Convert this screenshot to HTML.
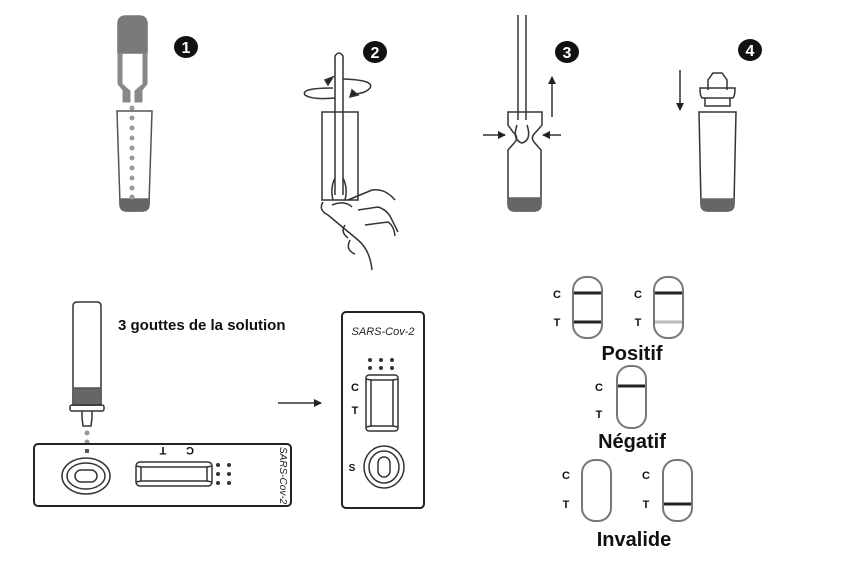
<!DOCTYPE html>
<html><head><meta charset="utf-8"><style>
html,body{margin:0;padding:0;background:#fff;}
svg{display:block;font-family:"Liberation Sans",sans-serif;}
</style></head><body>
<svg width="844" height="582" viewBox="0 0 844 582" xmlns="http://www.w3.org/2000/svg">
<defs>
<marker id="ah" markerWidth="8" markerHeight="8" refX="7" refY="4" orient="auto" markerUnits="userSpaceOnUse"><path d="M0,0 L8,4 L0,8 Z" fill="#222"/></marker>
</defs>
<g fill="none" stroke="#333" stroke-width="1.5">
<!-- Step 1 -->
<path d="M118,53 V24 Q118,16 126,16 H139 Q147,16 147,24 V53 Z" fill="#7a7a7a" stroke="#777"/>
<path d="M118,53 V84 L123,90 V102 H130 V91 L122,84 V53 Z" fill="#888" stroke="#888" stroke-width="1"/>
<path d="M147,53 V84 L142,90 V102 H135 V91 L143,84 V53 Z" fill="#888" stroke="#888" stroke-width="1"/>
<path d="M117,111 H152 L149,204 Q149,211 142,211 H127 Q120,211 120,204 Z" stroke="#555"/>
<path d="M120,199 H149 L149,204 Q149,211 142,211 H127 Q120,211 120,204 Z" fill="#666" stroke="#666"/>
<g fill="#999" stroke="none">
<circle cx="132" cy="108" r="2.5"/><circle cx="132" cy="118" r="2.5"/><circle cx="132" cy="128" r="2.5"/><circle cx="132" cy="138" r="2.5"/><circle cx="132" cy="148" r="2.5"/><circle cx="132" cy="158" r="2.5"/><circle cx="132" cy="168" r="2.5"/><circle cx="132" cy="178" r="2.5"/><circle cx="132" cy="188" r="2.5"/><circle cx="132" cy="197" r="2.5"/>
</g>
<!-- Step 2 -->
<path d="M322,112 H358 V200 H322 Z"/>
<path d="M335,195 V56 Q339,50 343,56 V195"/>
<path d="M335,178 Q330,188 333,200 M343,178 Q348,188 345,200"/>
<path d="M333,88 Q300,88 305,95 Q312,100 335,98" />
<path d="M325,80 L333,77 L328,85 Z" fill="#222"/>
<path d="M343,79 Q375,80 370,88 Q365,94 352,94"/>
<path d="M352,90 L358,95 L350,97 Z" fill="#222"/>
<path d="M323,202 Q318,210 328,215 L358,240 Q370,250 372,270 M332,205 Q345,200 352,207 M348,200 L372,190 Q385,188 395,200 M358,210 L378,207 Q388,210 392,220 L398,232 M365,225 L388,222 Q394,226 395,236 M345,225 Q340,232 348,238 M350,240 Q345,250 355,254"/>
<!-- Step 3 -->
<path d="M518,15 V120 M526,15 V120"/>
<path d="M508,112 H542 V125 L536,132 Q530,137 534,142 L541,150 V204 Q541,211 534,211 H515 Q508,211 508,204 V150 L515,142 Q519,137 513,132 L508,125 Z"/>
<path d="M517,125 Q512,140 522,143 Q532,140 527,125"/>
<path d="M508,198 H541 V204 Q541,211 534,211 H515 Q508,211 508,204 Z" fill="#666" stroke="#666"/>
<path d="M483,135 H505" marker-end="url(#ah)"/>
<path d="M561,135 H543" marker-end="url(#ah)"/>
<path d="M552,117 V77" marker-end="url(#ah)"/>
<!-- Step 4 -->
<path d="M708,90 V80 L713,73 H722 L727,80 V90"/>
<path d="M700,88 Q700,96 702,98 H733 Q735,96 735,88 Z"/>
<path d="M705,98 V106 H730 V98"/>
<path d="M699,112 H736 L734,204 Q734,211 727,211 H708 Q701,211 701,204 Z"/>
<path d="M701,199 H734 V204 Q734,211 727,211 H708 Q701,211 701,204 Z" fill="#666" stroke="#666"/>
<path d="M680,70 V110" marker-end="url(#ah)"/>
<!-- dropper bottom -->
<path d="M73,306 Q73,302 77,302 H97 Q101,302 101,306 V405 H73 Z"/>
<rect x="73" y="388" width="28" height="17" fill="#666" stroke="#555"/>
<rect x="70" y="405" width="34" height="6" rx="2"/>
<path d="M82,411 V418 L83,426 H91 L92,418 V411"/>
<g fill="#999" stroke="none"><circle cx="87" cy="433" r="2.5"/><circle cx="87" cy="442" r="2.5"/></g>
<rect x="85" y="449" width="4" height="4" fill="#555" stroke="none"/>
<!-- horizontal cassette -->
<rect x="34" y="444" width="257" height="62" rx="4" stroke="#222" stroke-width="2"/>
<ellipse cx="86" cy="476" rx="24" ry="18"/>
<ellipse cx="86" cy="476" rx="19" ry="13"/>
<rect x="75" y="470" width="22" height="12" rx="6"/>
<rect x="136" y="462" width="76" height="24" rx="4"/>
<rect x="141" y="467" width="66" height="14"/>
<path d="M136,466 L141,467 M136,482 L141,481 M212,466 L207,467 M212,482 L207,481"/>
<g fill="#333" stroke="none">
<circle cx="218" cy="465" r="2"/><circle cx="229" cy="465" r="2"/><circle cx="218" cy="474" r="2"/><circle cx="229" cy="474" r="2"/><circle cx="218" cy="483" r="2"/><circle cx="229" cy="483" r="2"/>
</g>
<!-- arrow -->
<path d="M278,403 H321" marker-end="url(#ah)"/>
<!-- vertical cassette -->
<rect x="342" y="312" width="82" height="196" rx="4" stroke="#222" stroke-width="2"/>
<rect x="366" y="375" width="32" height="56" rx="3"/>
<rect x="371" y="380" width="22" height="46"/>
<path d="M366,379 L371,380 M398,379 L393,380 M366,427 L371,426 M398,427 L393,426"/>
<g fill="#333" stroke="none">
<circle cx="370" cy="360" r="2"/><circle cx="381" cy="360" r="2"/><circle cx="392" cy="360" r="2"/><circle cx="370" cy="368" r="2"/><circle cx="381" cy="368" r="2"/><circle cx="392" cy="368" r="2"/>
</g>
<ellipse cx="384" cy="467" rx="20" ry="21"/>
<ellipse cx="384" cy="467" rx="15" ry="16"/>
<rect x="378" y="457" width="12" height="20" rx="6"/>
<!-- result strips -->
<g stroke="#777" stroke-width="2">
<rect x="573" y="277" width="29" height="61" rx="13"/>
<rect x="654" y="277" width="29" height="61" rx="13"/>
<rect x="617" y="366" width="29" height="62" rx="13"/>
<rect x="582" y="460" width="29" height="61" rx="13"/>
<rect x="663" y="460" width="29" height="61" rx="13"/>
</g>
<g stroke="#222" stroke-width="3">
<path d="M574,293 H601 M574,322 H601 M655,293 H682 M618,386 H645 M664,504 H691"/>
</g>
<path d="M655,322 H682" stroke="#bbb" stroke-width="3"/>
</g>
<!-- numbered circles -->
<g font-weight="bold" font-size="16" text-anchor="middle" fill="#fff">
<ellipse cx="186" cy="47" rx="12" ry="11" fill="#111"/><text x="186" y="53">1</text>
<ellipse cx="375" cy="52" rx="12" ry="11" fill="#111"/><text x="375" y="58">2</text>
<ellipse cx="567" cy="52" rx="12" ry="11" fill="#111"/><text x="567" y="58">3</text>
<ellipse cx="750" cy="50" rx="12" ry="11" fill="#111"/><text x="750" y="56">4</text>
</g>
<g fill="#111" font-weight="bold">
<text x="118" y="330" font-size="15">3 gouttes de la solution</text>
<text x="163" y="455" font-size="11" text-anchor="middle" transform="rotate(180 163 451)">T</text>
<text x="190" y="455" font-size="11" text-anchor="middle" transform="rotate(180 190 451)">C</text>
<text x="355" y="391" font-size="11" text-anchor="middle">C</text>
<text x="355" y="414" font-size="11" text-anchor="middle">T</text>
<text x="352" y="471" font-size="10" text-anchor="middle">S</text>
<g font-size="11" text-anchor="middle">
<text x="557" y="298">C</text><text x="557" y="326">T</text>
<text x="638" y="298">C</text><text x="638" y="326">T</text>
<text x="599" y="391">C</text><text x="599" y="418">T</text>
<text x="566" y="479">C</text><text x="566" y="508">T</text>
<text x="646" y="479">C</text><text x="646" y="508">T</text>
</g>
<g font-size="20" text-anchor="middle">
<text x="632" y="360">Positif</text>
<text x="632" y="448">Négatif</text>
<text x="634" y="546">Invalide</text>
</g>
</g>
<g fill="#222" font-style="italic" font-size="11">
<text x="383" y="335" text-anchor="middle">SARS-Cov-2</text>
<text x="0" y="0" font-size="10" transform="translate(280,447) rotate(90)">SARS-Cov-2</text>
</g>
</svg>
</body></html>
